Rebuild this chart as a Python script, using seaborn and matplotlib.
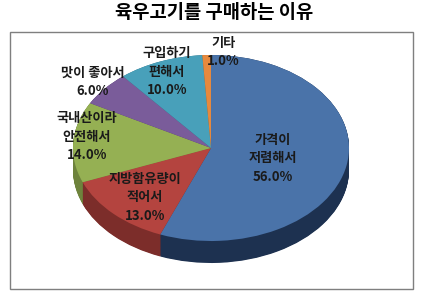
import matplotlib
matplotlib.use("Agg")
import matplotlib.pyplot as plt
import seaborn as sns
import numpy as np
from matplotlib.patches import Rectangle

sns.set_theme(style="white")
plt.rcParams['font.family'] = ['Noto Sans CJK KR', 'DejaVu Sans']

# ---- data ----
title = "육우고기를 구매하는 이유"
categories = ["가격이\n저렴해서", "지방함유량이\n적어서", "국내산이라\n안전해서",
              "맛이 좋아서", "구입하기\n편해서", "기타"]
values = [56.0, 13.0, 14.0, 6.0, 10.0, 1.0]

# ---- style ----
top_colors = ["#4A73A9", "#B4443F", "#95B053", "#7A5C9A", "#48A0BA", "#E7893D"]
side_colors = ["#1D3150", "#7C2D2A", "#6E833C", "#4F3A66", "#2E6B7C", "#9A5726"]
# label offsets (in unit-ellipse coords), layout only
label_pos = [(0.45, -0.11), (-0.48, -0.53), (-0.90, 0.12),
             (-0.86, 0.71), (-0.32, 0.82), (0.09, 1.03)]

W, H = 429, 304
fig = plt.figure(figsize=(W / 100, H / 100), dpi=100)
fig.patch.set_facecolor("white")

# frame
fig.patches.append(Rectangle((10 / W, 1 - 289 / H), 403 / W, 257 / H,
                             transform=fig.transFigure, fill=False,
                             edgecolor="#7f7f7f", linewidth=1.0))

fig.text(0.5, 1 - 13 / H, title, ha="center", va="center",
         fontsize=13.5, fontweight="bold", color="black")

cx, cy, rx, ry = 211, 148, 138, 93
xl = (-1.25, 1.25)
yl = (-1.6, 1.3)
left = (cx + xl[0] * rx) / W
width = (xl[1] - xl[0]) * rx / W
bottom = (H - (cy - yl[0] * ry)) / H
height = (yl[1] - yl[0]) * ry / H
ax = fig.add_axes([left, bottom, width, height])

depth = 22 / ry
for k in np.linspace(depth, 0.0, 40):
    ax.pie(values, colors=side_colors, startangle=90, counterclock=False,
           center=(0, -k), wedgeprops=dict(linewidth=0, antialiased=True))
ax.pie(values, colors=top_colors, startangle=90, counterclock=False,
       center=(0, 0), wedgeprops=dict(linewidth=0, antialiased=True))

ax.set_aspect("auto")
ax.set_xlim(*xl)
ax.set_ylim(*yl)
ax.axis("off")

for cat, v, (px, py) in zip(categories, values, label_pos):
    ax.text(px, py, f"{cat}\n{v:.1f}%", ha="center", va="center",
            fontsize=9.5, fontweight="bold", color="#1a1a1a", linespacing=1.4)

fig.savefig("out.png", dpi=100)
